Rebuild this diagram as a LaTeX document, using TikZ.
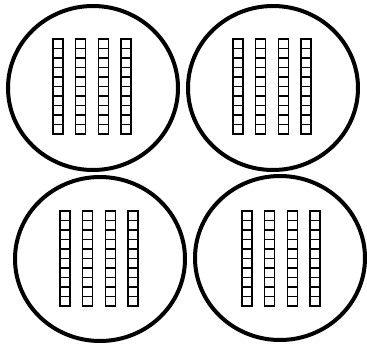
\documentclass[tikz,border=0pt]{standalone}
\begin{document}
\begin{tikzpicture}[x=1pt, y=-1pt,
  ring/.style={draw, line width=4pt},
  cube/.style={draw, line width=1.3pt}
]
  \useasboundingbox (0,0) rectangle (367,343);
  % four groups of four rods of ten
  \foreach \cx/\cy/\rx/\ry in {93/88/58/39, 273/88/238/39, 100/259/65/211, 280/258/247/211} {
    \draw[ring] (\cx,\cy) ellipse [x radius=85, y radius=82];
    \foreach \i in {0,...,3}
      \foreach \j in {0,...,9}
        \draw[cube] ({\rx-5+22.7*\i},{\ry+9.5*\j}) rectangle ++(10,9.5);
  }
\end{tikzpicture}
\end{document}
